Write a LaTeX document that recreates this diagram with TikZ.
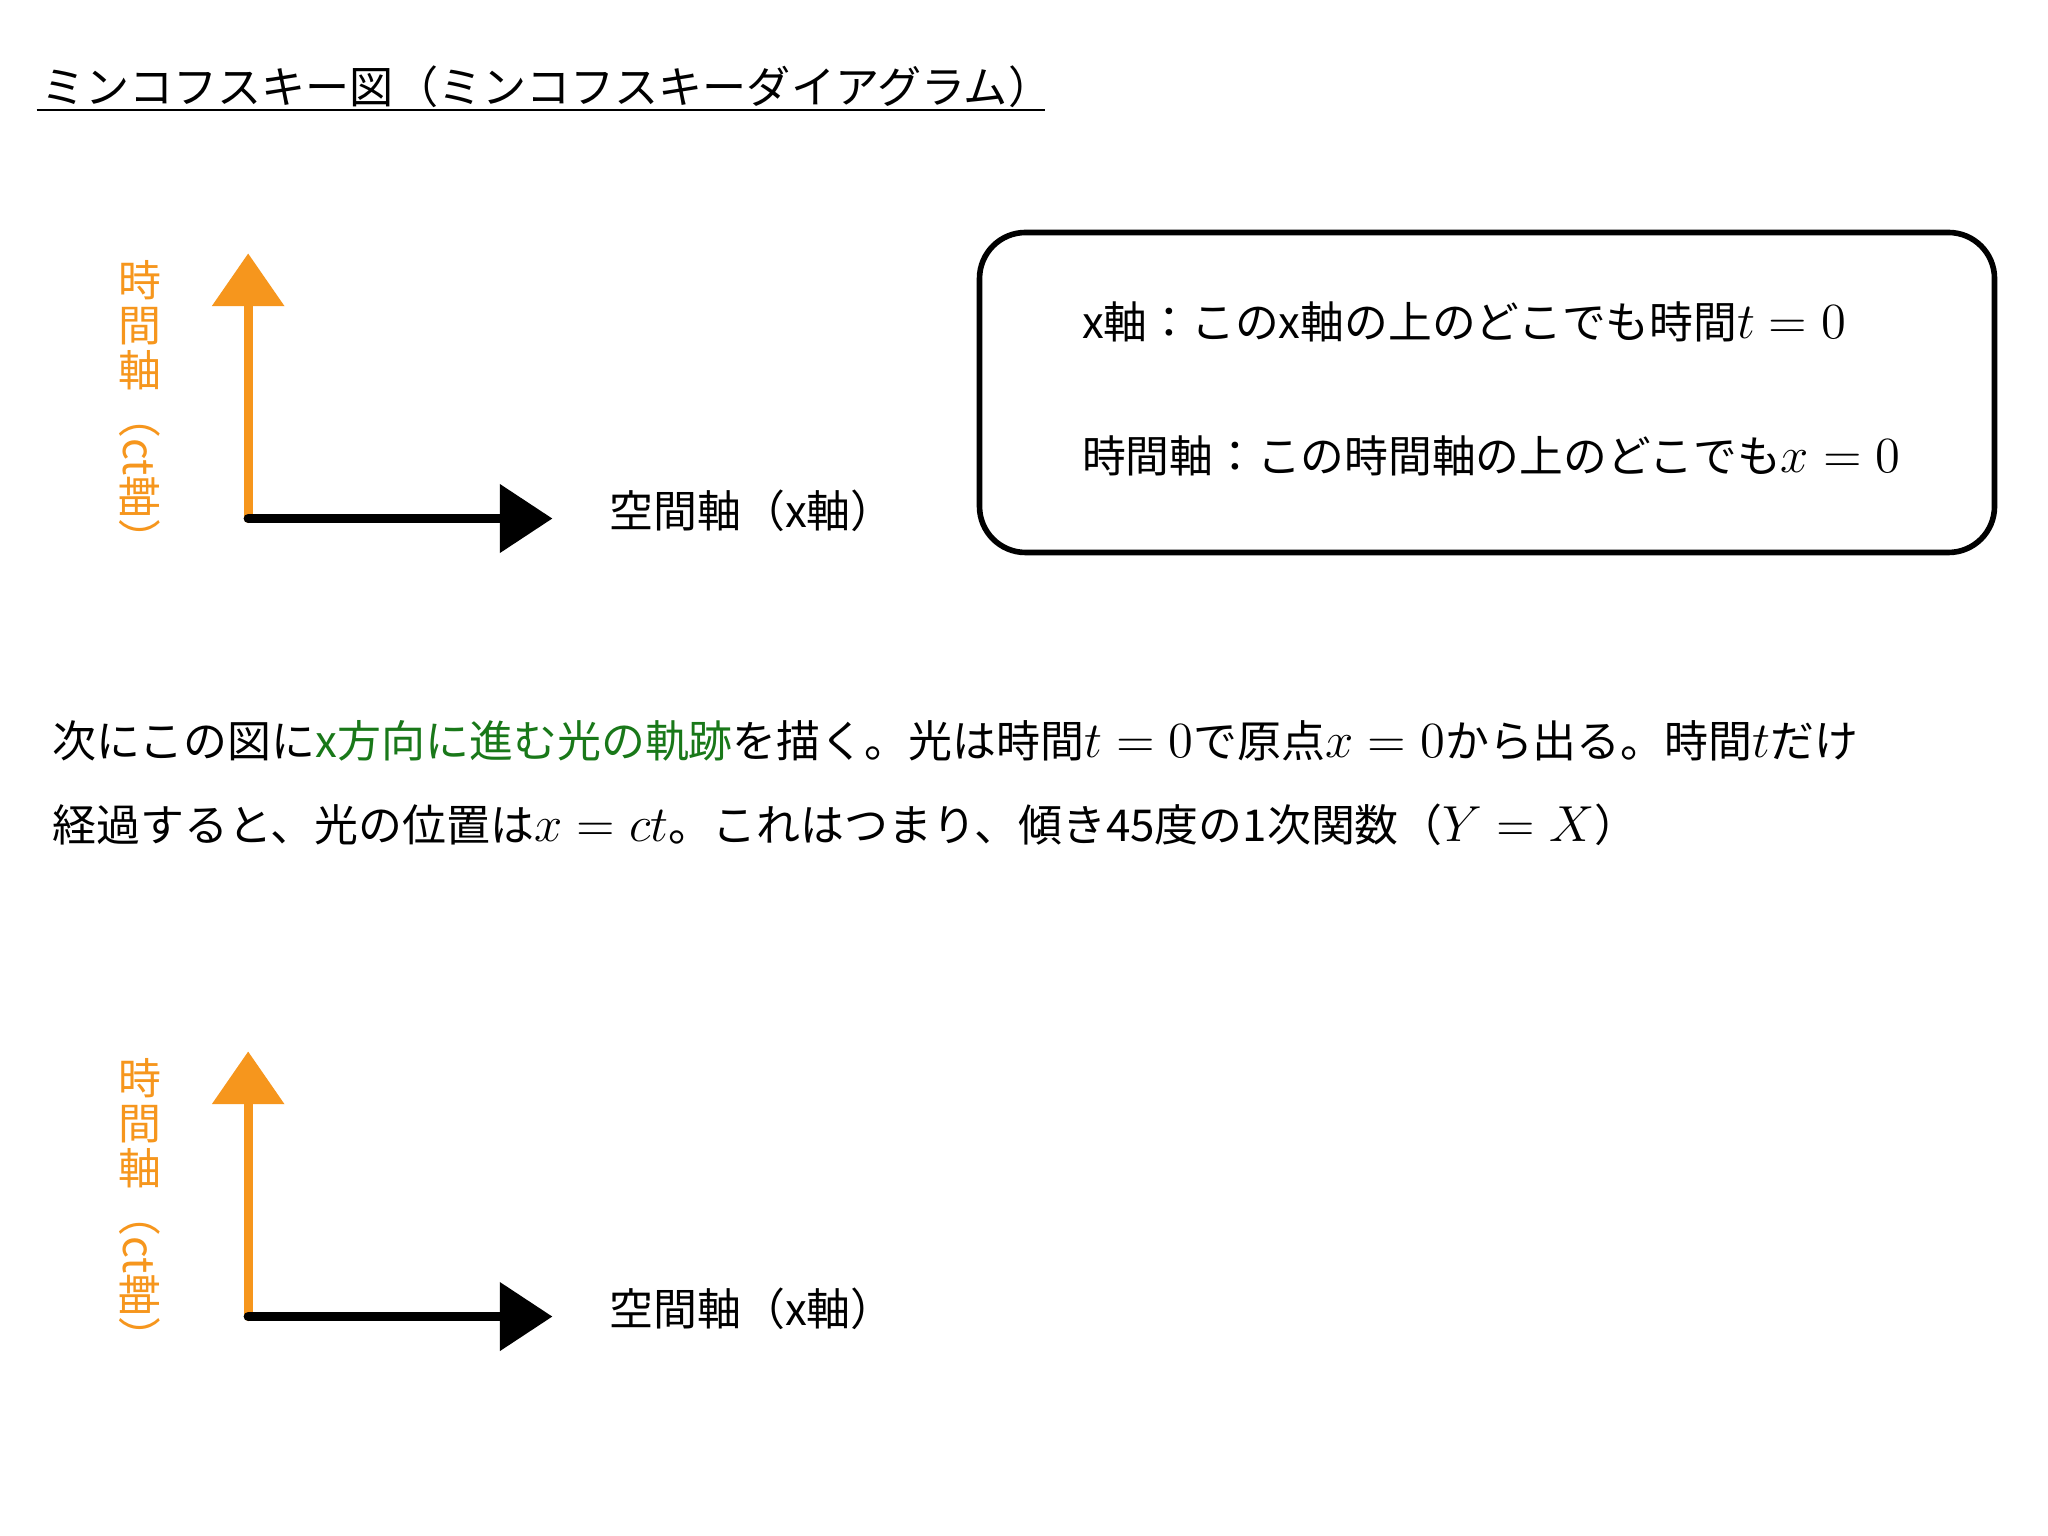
\documentclass[tikz,border=0pt]{standalone}
\usepackage[no-math]{fontspec}
\setmainfont{Noto Sans CJK JP}
\usetikzlibrary{arrows.meta}
\definecolor{axisorange}{RGB}{246,150,29}
\definecolor{lightgreen}{RGB}{25,120,25}
\newcommand{\fsz}[1]{\fontsize{#1}{#1}\selectfont}
\newcommand{\mth}[1]{{\fontsize{15pt}{15pt}\selectfont$#1$}}
\tikzset{
  txt/.style={inner sep=0pt, anchor=base west},
  timeaxis/.style={draw=axisorange, line width=2.6pt, line cap=round,
     -{Triangle[width=20pt,length=15pt,fill=axisorange]}},
  spaceaxis/.style={draw=black, line width=2.6pt, line cap=round,
     -{Triangle[width=19pt,length=15pt,fill=black]}},
  timelabel/.style={inner sep=0pt, text=axisorange, font=\fsz{12.2pt}},
  spacelabel/.style={txt, font=\fsz{12.5pt}},
  infobox/.style={draw=black, line width=1.6pt, rounded corners=4.6mm,
     minimum width=101.5mm, minimum height=32mm, inner sep=0pt},
  boxtext/.style={txt, font=\fsz{12.45pt}},
  paratext/.style={txt, font=\fsz{12.5pt}},
}
\begin{document}
\begin{tikzpicture}[x=0.130612mm, y=-0.130612mm]
\useasboundingbox[fill=white] (0,0) rectangle (1568,1176);

% title
\node[txt, font=\fsz{12.55pt}] (title) at (31,79) {ミンコフスキー図（ミンコフスキーダイアグラム）};
\coordinate (ulA) at (28,84);
\coordinate (ulB) at (800,84);
\draw[line width=0.6pt] (ulA) -- (ulB);

% first diagram
\coordinate (O1) at (190,397);
\coordinate (T1) at (190,194);
\coordinate (X1) at (423,397);
\draw[timeaxis] (O1) -- (T1);
\draw[spaceaxis] (O1) -- (X1);
\node[timelabel, align=center, anchor=north] (tl1a) at (107,199) {時\\[0.6pt]間\\[0.6pt]軸};
\node[timelabel, rotate=-90, anchor=west] (tl1b) at (107,302) {（ct軸）};
\node[spacelabel] (sl1) at (466,404) {空間軸（x軸）};

% info box
\node[infobox] (box) at (1138.5,300.5) {};
\node[boxtext] (b1) at (828,259) {x軸：このx軸の上のどこでも時間\mth{t = 0}};
\node[boxtext] (b2) at (828,362) {時間軸：この時間軸の上のどこでも\mth{x = 0}};

% paragraph
\node[paratext] (p1) at (40,580) {次にこの図に\textcolor{lightgreen}{x方向に進む光の軌跡}を描く。光は時間\mth{t = 0}で原点\mth{x = 0}から出る。時間\mth{t}だけ};
\node[paratext] (p2) at (40,644) {経過すると、光の位置は\mth{x = ct}。これはつまり、傾き45度の1次関数（\mth{Y = X}）};

% second diagram
\coordinate (O2) at (190,1008);
\coordinate (T2) at (190,805);
\coordinate (X2) at (423,1008);
\draw[timeaxis] (O2) -- (T2);
\draw[spaceaxis] (O2) -- (X2);
\node[timelabel, align=center, anchor=north] (tl2a) at (107,810) {時\\[0.6pt]間\\[0.6pt]軸};
\node[timelabel, rotate=-90, anchor=west] (tl2b) at (107,913) {（ct軸）};
\node[spacelabel] (sl2) at (466,1015) {空間軸（x軸）};
\end{tikzpicture}
\end{document}
